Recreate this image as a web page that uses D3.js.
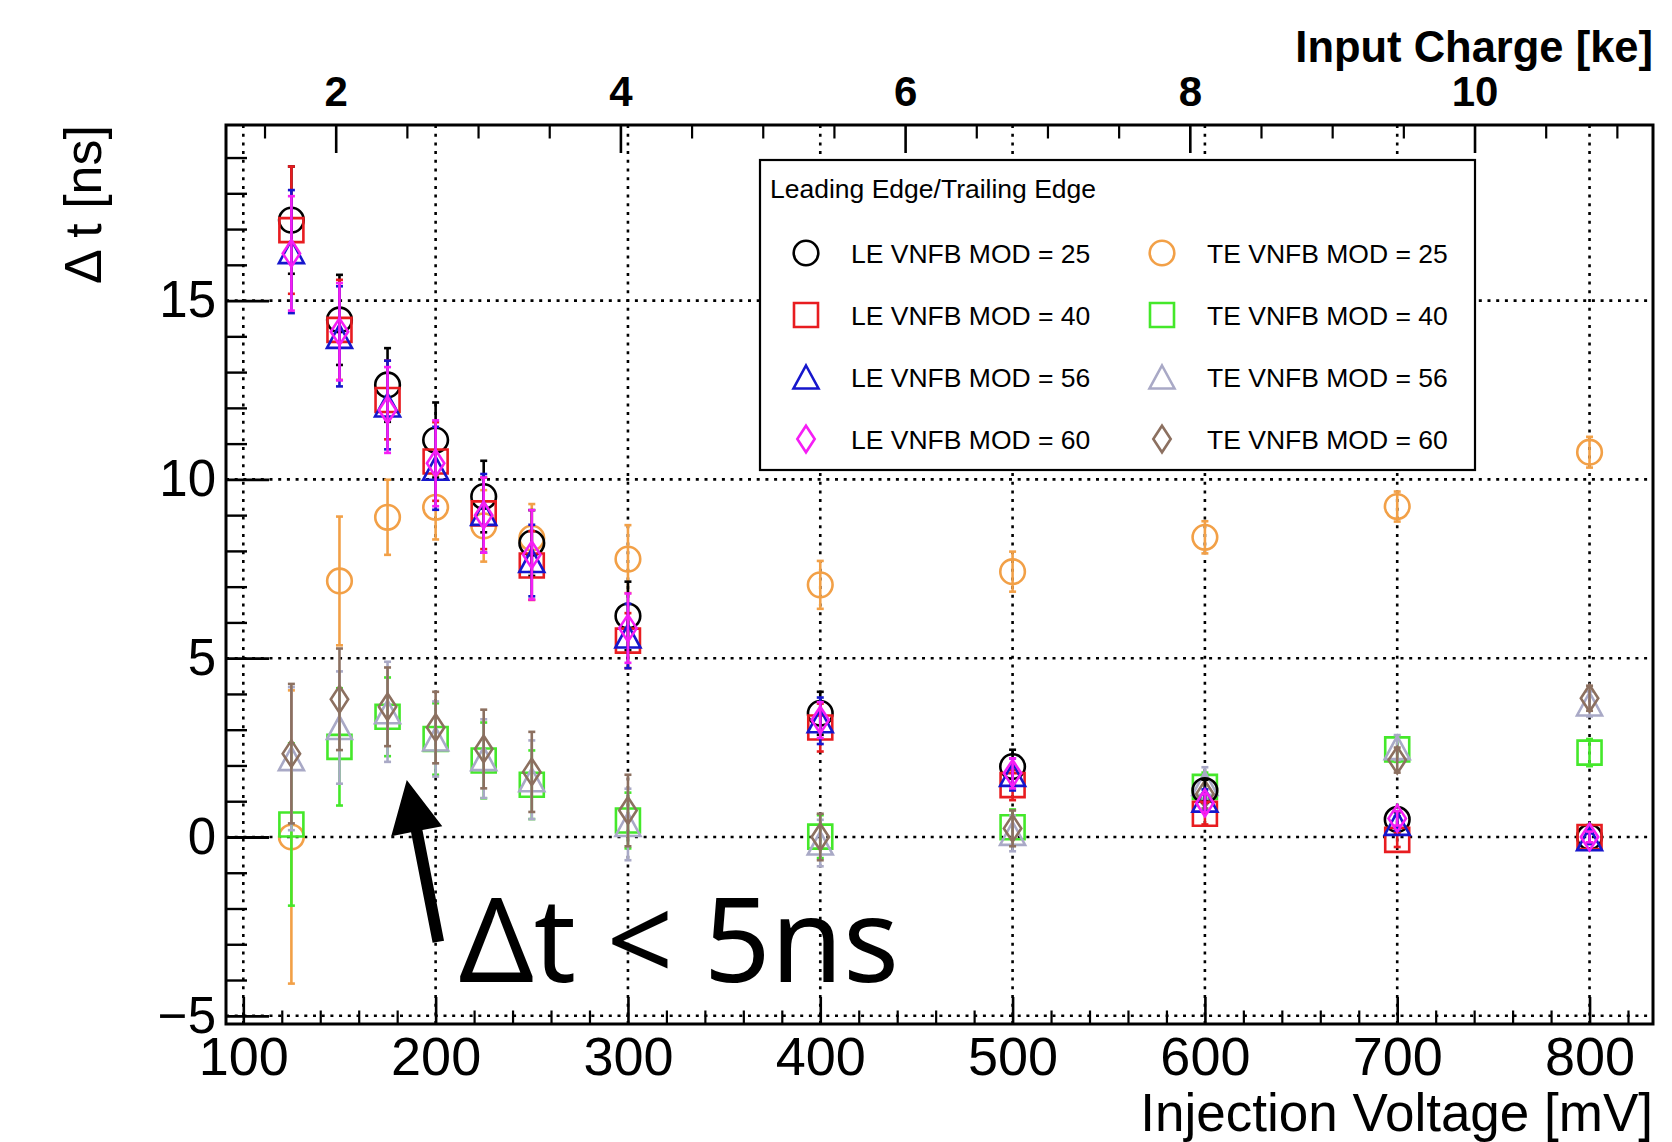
<!DOCTYPE html>
<html>
<head>
<meta charset="utf-8">
<script src="https://cdn.jsdelivr.net/npm/d3@7"></script>
<style>
  body { margin: 0; background: #ffffff; }
  svg { display: block; }
</style>
</head>
<body>
<svg id="chart" width="1672" height="1142"></svg>
<script>
// ---- data ---------------------------------------------------------------
const voltages = [125, 150, 175, 200, 225, 250, 300, 400, 500, 600, 700, 800];

// Leading edge, Δt [ns] with errors
const le25    = [17.25, 14.46, 12.64, 11.10, 9.52, 8.22, 6.18, 3.46, 1.97, 1.30, 0.49, 0.00];
const le25Err = [1.50, 1.26, 1.03, 1.05, 1.00, 0.92, 0.96, 0.60, 0.47, 0.30, 0.20, 0.15];
const le40    = [16.97, 14.18, 12.22, 10.50, 9.05, 7.59, 5.49, 3.06, 1.45, 0.65, -0.08, 0.00];
const le40Err = [1.78, 1.40, 1.10, 1.10, 1.00, 0.96, 0.77, 0.67, 0.42, 0.30, 0.20, 0.15];
const le56    = [16.37, 14.00, 12.08, 10.31, 9.05, 7.73, 5.62, 3.25, 1.75, 1.03, 0.38, -0.05];
const le56Err = [1.72, 1.40, 1.24, 1.16, 1.10, 1.00, 0.90, 0.65, 0.45, 0.30, 0.20, 0.15];
const le60    = [16.32, 14.13, 11.94, 10.45, 9.00, 7.89, 5.84, 3.27, 1.78, 0.95, 0.52, 0.00];
const le60Err = [1.60, 1.36, 1.20, 1.20, 1.05, 1.25, 0.97, 0.50, 0.42, 0.25, 0.20, 0.15];

// Trailing edge, Δt [ns] with errors
const te25    = [0.00, 7.16, 8.94, 9.22, 8.70, 8.36, 7.77, 7.05, 7.42, 8.38, 9.24, 10.76];
const te25Err = [4.10, 1.80, 1.05, 0.90, 1.00, 0.95, 0.95, 0.67, 0.56, 0.45, 0.42, 0.43];
const te40    = [0.35, 2.52, 3.36, 2.74, 2.14, 1.46, 0.46, 0.01, 0.27, 1.40, 2.45, 2.36];
const te40Err = [2.27, 1.64, 1.10, 1.00, 1.06, 0.96, 0.78, 0.60, 0.50, 0.40, 0.35, 0.38];
const te56    = [2.19, 3.06, 3.50, 2.74, 2.19, 1.60, 0.35, -0.17, 0.10, 1.50, 2.50, 3.72];
const te56Err = [2.00, 1.57, 1.40, 1.05, 1.10, 1.10, 1.00, 0.65, 0.50, 0.45, 0.35, 0.35];
const te60    = [2.33, 3.85, 3.64, 3.06, 2.46, 1.82, 0.74, 0.00, 0.24, 1.20, 2.15, 3.88];
const te60Err = [1.95, 1.42, 1.10, 1.00, 1.10, 1.12, 1.00, 0.65, 0.50, 0.40, 0.35, 0.35];

// Axis ticks
const voltageTicks = [100, 200, 300, 400, 500, 600, 700, 800];
const voltageMinorTicks = d3.range(100, 831, 20).filter(v => v % 100 !== 0);
const dtTicks = [-5, 0, 5, 10, 15];
const dtMinorTicks = d3.range(-5, 20, 1).filter(v => v % 5 !== 0);
const chargeTicks = [2, 4, 6, 8, 10];
const chargeMinorTicks = d3.range(1.5, 11.01, 0.5).filter(v => v % 2 !== 0);

// Injection voltage -> input charge conversion [ke per mV]
const kePerMv = 0.01351;

const legendTitle = "Leading Edge/Trailing Edge";
const annotationText = "\u0394t < 5ns";

// ---- series styling -------------------------------------------------------
const series = [
  { label: "TE VNFB MOD = 25", shape: "circle",   color: "#f2a047", values: te25, errors: te25Err },
  { label: "TE VNFB MOD = 40", shape: "square",   color: "#44e82a", values: te40, errors: te40Err },
  { label: "TE VNFB MOD = 56", shape: "triangle", color: "#a9a9c6", values: te56, errors: te56Err },
  { label: "TE VNFB MOD = 60", shape: "diamond",  color: "#8c7060", values: te60, errors: te60Err },
  { label: "LE VNFB MOD = 25", shape: "circle",   color: "#000000", values: le25, errors: le25Err },
  { label: "LE VNFB MOD = 40", shape: "square",   color: "#e81c20", values: le40, errors: le40Err },
  { label: "LE VNFB MOD = 56", shape: "triangle", color: "#1616cc", values: le56, errors: le56Err },
  { label: "LE VNFB MOD = 60", shape: "diamond",  color: "#f51ef5", values: le60, errors: le60Err }
];
const legendOrder = [
  ["LE VNFB MOD = 25", "TE VNFB MOD = 25"],
  ["LE VNFB MOD = 40", "TE VNFB MOD = 40"],
  ["LE VNFB MOD = 56", "TE VNFB MOD = 56"],
  ["LE VNFB MOD = 60", "TE VNFB MOD = 60"]
];

// ---- layout ---------------------------------------------------------------
const frame = { left: 226, right: 1653, top: 125, bottom: 1024 };
const FONT = "'Liberation Sans', Arial, Helvetica, sans-serif";

const x = d3.scaleLinear().domain([91, 833]).range([frame.left, frame.right]);
const y = d3.scaleLinear().domain([-5.23, 19.91]).range([frame.bottom, frame.top]);
const xCharge = d3.scaleLinear()
  .domain([91 * kePerMv, 833 * kePerMv])
  .range([frame.left, frame.right]);

const svg = d3.select("#chart");
svg.append("rect").attr("width", 1672).attr("height", 1142).attr("fill", "#fff");

// ---- grid ------------------------------------------------------------------
const grid = svg.append("g")
  .attr("stroke", "#000")
  .attr("stroke-width", 2.6)
  .attr("stroke-dasharray", "3,5.7");
grid.selectAll("line.gx").data(voltageTicks).join("line")
  .attr("x1", d => x(d)).attr("x2", d => x(d))
  .attr("y1", frame.top).attr("y2", frame.bottom);
grid.selectAll("line.gy").data(dtTicks).join("line")
  .attr("class", "gy")
  .attr("x1", frame.left).attr("x2", frame.right)
  .attr("y1", d => y(d)).attr("y2", d => y(d));

// ---- axes ------------------------------------------------------------------
function styleAxis(g, width) {
  g.select(".domain").remove();
  g.selectAll(".tick line").attr("stroke", "#000").attr("stroke-width", width);
  g.selectAll(".tick text").attr("fill", "#000");
}

// bottom: injection voltage
const gxMinor = svg.append("g").attr("transform", `translate(0,${frame.bottom})`)
  .call(d3.axisBottom(x).tickValues(voltageMinorTicks).tickSize(-13.5).tickFormat(""));
styleAxis(gxMinor, 2.2);
const gx = svg.append("g").attr("transform", `translate(0,${frame.bottom})`)
  .call(d3.axisBottom(x).tickValues(voltageTicks).tickSize(-27).tickPadding(13).tickFormat(d3.format("d")));
styleAxis(gx, 2.6);
gx.selectAll(".tick text").attr("font-family", FONT).attr("font-size", 54);

// left: Δt
const gyMinor = svg.append("g").attr("transform", `translate(${frame.left},0)`)
  .call(d3.axisLeft(y).tickValues(dtMinorTicks).tickSize(-21).tickFormat(""));
styleAxis(gyMinor, 2.4);
const gy = svg.append("g").attr("transform", `translate(${frame.left},0)`)
  .call(d3.axisLeft(y).tickValues(dtTicks).tickSize(-43).tickPadding(10)
    .tickFormat(d => d < 0 ? "\u2212" + Math.abs(d) : String(d)));
styleAxis(gy, 2.8);
gy.selectAll(".tick text").attr("font-family", FONT).attr("font-size", 51);

// top: input charge
const gtMinor = svg.append("g").attr("transform", `translate(0,${frame.top})`)
  .call(d3.axisTop(xCharge).tickValues(chargeMinorTicks).tickSize(-13.5).tickFormat(""));
styleAxis(gtMinor, 2.2);
const gt = svg.append("g").attr("transform", `translate(0,${frame.top})`)
  .call(d3.axisTop(xCharge).tickValues(chargeTicks).tickSize(-28).tickPadding(19).tickFormat(d3.format("d")));
styleAxis(gt, 2.6);
gt.selectAll(".tick text").attr("font-family", FONT).attr("font-size", 42).attr("font-weight", "bold");

// frame
svg.append("rect")
  .attr("x", frame.left).attr("y", frame.top)
  .attr("width", frame.right - frame.left).attr("height", frame.bottom - frame.top)
  .attr("fill", "none").attr("stroke", "#000").attr("stroke-width", 3);

// axis titles
svg.append("text")
  .attr("x", frame.right).attr("y", 1131)
  .attr("text-anchor", "end").attr("font-family", FONT).attr("font-size", 53)
  .text("Injection Voltage [mV]");
svg.append("text")
  .attr("x", frame.right).attr("y", 62)
  .attr("text-anchor", "end").attr("font-family", FONT).attr("font-size", 43.5).attr("font-weight", "bold")
  .text("Input Charge [ke]");
svg.append("text")
  .attr("transform", `translate(101,${frame.top}) rotate(-90)`)
  .attr("text-anchor", "end").attr("font-family", FONT).attr("font-size", 52)
  .text("\u0394 t [ns]");

// ---- markers -----------------------------------------------------------------
function markerPath(shape) {
  switch (shape) {
    case "circle": {
      const r = 12.3;
      return `M${-r},0A${r},${r} 0 1,0 ${r},0A${r},${r} 0 1,0 ${-r},0Z`;
    }
    case "square": {
      const s = 12;
      return `M${-s},${-s}H${s}V${s}H${-s}Z`;
    }
    case "triangle": {
      const w = 12.5, h = 11.5;
      return `M0,${-h}L${w},${h}L${-w},${h}Z`;
    }
    case "diamond": {
      const w = 8.7, h = 13.3;
      return `M0,${-h}L${w},0L0,${h}L${-w},0Z`;
    }
  }
}

const plot = svg.append("g");
series.forEach(s => {
  const pts = voltages.map((v, i) => ({ v, val: s.values[i], err: s.errors[i] }));
  const g = plot.append("g").attr("stroke", s.color).attr("fill", "none");
  // error bars with end caps
  g.selectAll("line.bar").data(pts).join("line")
    .attr("class", "bar")
    .attr("x1", d => x(d.v)).attr("x2", d => x(d.v))
    .attr("y1", d => y(d.val - d.err)).attr("y2", d => y(d.val + d.err))
    .attr("stroke-width", 2.6);
  g.selectAll("line.capTop").data(pts).join("line")
    .attr("class", "capTop")
    .attr("x1", d => x(d.v) - 3.5).attr("x2", d => x(d.v) + 3.5)
    .attr("y1", d => y(d.val + d.err)).attr("y2", d => y(d.val + d.err))
    .attr("stroke-width", 2.6);
  g.selectAll("line.capBot").data(pts).join("line")
    .attr("class", "capBot")
    .attr("x1", d => x(d.v) - 3.5).attr("x2", d => x(d.v) + 3.5)
    .attr("y1", d => y(d.val - d.err)).attr("y2", d => y(d.val - d.err))
    .attr("stroke-width", 2.6);
  g.selectAll("path.mk").data(pts).join("path")
    .attr("class", "mk")
    .attr("transform", d => `translate(${x(d.v)},${y(d.val)})`)
    .attr("d", markerPath(s.shape))
    .attr("stroke-width", 2.6);
});

// ---- legend ------------------------------------------------------------------
const legend = svg.append("g").attr("transform", "translate(760,160)");
legend.append("rect")
  .attr("width", 715).attr("height", 310)
  .attr("fill", "#fff").attr("stroke", "#000").attr("stroke-width", 2.2);
legend.append("text")
  .attr("x", 10).attr("y", 38)
  .attr("font-family", FONT).attr("font-size", 26.5)
  .text(legendTitle);
const bySeries = new Map(series.map(s => [s.label, s]));
legendOrder.forEach((row, ri) => {
  row.forEach((label, ci) => {
    const s = bySeries.get(label);
    const cy = 93 + ri * 62;
    const mx = ci === 0 ? 46 : 402;
    legend.append("path")
      .attr("transform", `translate(${mx},${cy})`)
      .attr("d", markerPath(s.shape))
      .attr("fill", "none").attr("stroke", s.color).attr("stroke-width", 2.6);
    legend.append("text")
      .attr("x", mx + 45).attr("y", cy + 9.5)
      .attr("font-family", FONT).attr("font-size", 26.5)
      .text(s.label);
  });
});

// ---- annotation: arrow and Δt < 5ns -----------------------------------------
const arrowTail = { v: 201.4, dt: -2.93 };
const arrowTip = { v: 185.0, dt: 1.59 };
(function drawArrow() {
  const x0 = x(arrowTail.v), y0 = y(arrowTail.dt);
  const x1 = x(arrowTip.v), y1 = y(arrowTip.dt);
  const len = Math.hypot(x1 - x0, y1 - y0);
  const ux = (x1 - x0) / len, uy = (y1 - y0) / len;
  const nx = -uy, ny = ux;
  const headLen = 52, headHalf = 26, shaftHalf = 5.8;
  const bx = x1 - ux * headLen, by = y1 - uy * headLen;
  const p = [
    [x0 + nx * shaftHalf, y0 + ny * shaftHalf],
    [bx + nx * shaftHalf, by + ny * shaftHalf],
    [bx + nx * headHalf, by + ny * headHalf],
    [x1, y1],
    [bx - nx * headHalf, by - ny * headHalf],
    [bx - nx * shaftHalf, by - ny * shaftHalf],
    [x0 - nx * shaftHalf, y0 - ny * shaftHalf]
  ];
  svg.append("path")
    .attr("d", "M" + p.map(q => q.join(",")).join("L") + "Z")
    .attr("fill", "#000");
})();

svg.append("text")
  .attr("x", 459).attr("y", 982)
  .attr("font-family", "'Noto Sans', 'Open Sans', sans-serif")
  .attr("font-size", 117)
  .attr("fill", "#000")
  .text(annotationText);
</script>
</body>
</html>
